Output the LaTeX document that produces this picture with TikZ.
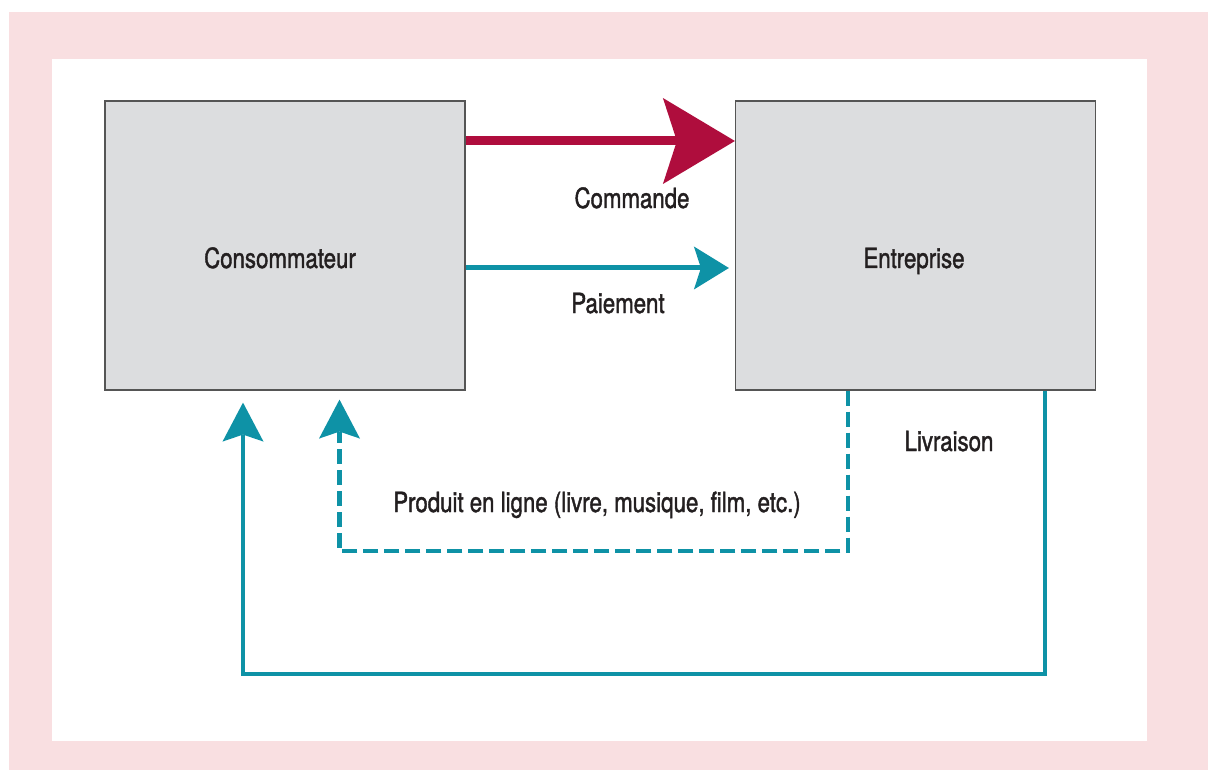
\documentclass[tikz,border=0pt]{standalone}
\usepackage{fontspec}
\setmainfont{TeX Gyre Heros}[FakeStretch=0.8, FakeBold=1.4]
\usetikzlibrary{arrows.meta}
\definecolor{framepink}{HTML}{F9DFE1}
\definecolor{boxgray}{HTML}{DCDDDF}
\definecolor{boxline}{HTML}{555555}
\definecolor{crimson}{HTML}{AF0D3D}
\definecolor{teal}{HTML}{0E92A6}
\definecolor{ink}{HTML}{231F20}
\tikzset{
  actor/.style={draw=boxline, line width=1.2pt, fill=boxgray, minimum width=360pt, minimum height=289pt, inner sep=0pt, text=ink, font=\fontsize{27.8pt}{32pt}\selectfont},
  flowlabel/.style={anchor=base, text=ink, inner sep=0pt, font=\fontsize{27.8pt}{32pt}\selectfont},
  orderflow/.style={draw=crimson, line width=9pt, -{Stealth[length=72pt, width=86pt, inset=14pt, line width=0pt]}},
  payflow/.style={draw=teal, line width=5pt, -{Stealth[length=35pt, width=43pt, inset=7pt, line width=0pt]}},
  deliveryflow/.style={draw=teal, line width=4.5pt, -{Stealth[length=39pt, width=41pt, inset=7pt, line width=0pt]}},
  onlineflow/.style={deliveryflow, dash pattern=on 15pt off 6pt},
}
\begin{document}
\begin{tikzpicture}[x=1pt, y=-1pt]
  \useasboundingbox (0,0) rectangle (1208,770);
  % frame
  \fill[framepink] (9,12) rectangle (1208,770);
  \fill[white] (52,59) rectangle (1147,741);

  % the two parties
  \node[actor] (cons) at (285,245.5) {};
  \node[actor] (ent) at (915.5,245.5) {};
  \node[flowlabel] (consT) at (280,268) {Consommateur};
  \node[flowlabel] (entT) at (914,268) {Entreprise};

  % order and payment
  \draw[orderflow] ([yshift=104.5pt]cons.east) -- ([yshift=104.5pt]ent.west);
  \draw[payflow, shorten >=6pt] ([yshift=-22.5pt]cons.east) -- ([yshift=-22.5pt]ent.west);
  \node[flowlabel] (cmd) at (632,208) {Commande};
  \node[flowlabel] (pay) at (618,313) {Paiement};

  % physical delivery
  \coordinate (lvA) at ([xshift=129.5pt]ent.south);
  \coordinate (lvB) at ([xshift=-42pt]cons.south);
  \coordinate (lvY) at (0,674);
  \draw[deliveryflow, shorten >=12pt] (lvA) -- (lvA |- lvY) -| (lvB);
  \node[flowlabel] (lv) at (949,451) {Livraison};

  % online delivery
  \coordinate (olA) at ([xshift=-67.5pt]ent.south);
  \coordinate (olB) at ([xshift=54.5pt]cons.south);
  \coordinate (olY) at (0,551);
  \draw[onlineflow, shorten >=9pt] (olA) -- (olA |- olY) -| (olB);
  \node[flowlabel] (ol) at (597,512) {Produit en ligne (livre, musique, film, etc.)};
\end{tikzpicture}
\end{document}
